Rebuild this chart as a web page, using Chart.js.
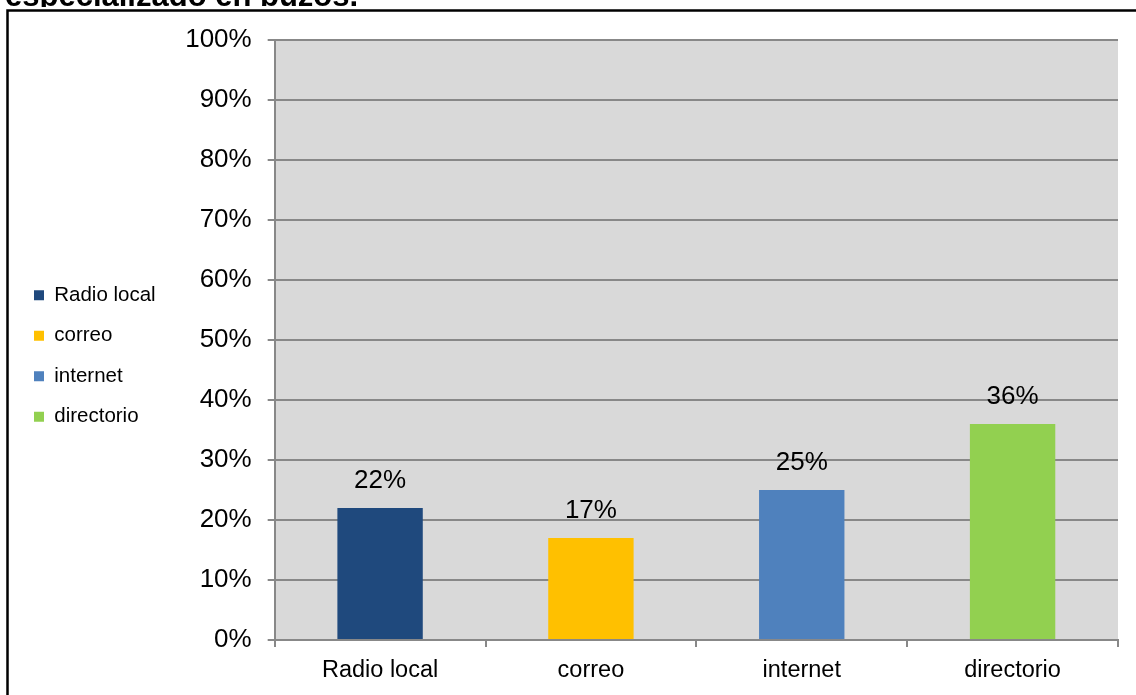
<!DOCTYPE html>
<html>
<head>
<meta charset="utf-8">
<script src="https://cdn.jsdelivr.net/npm/chart.js@4.4.1/dist/chart.umd.min.js"></script>
<style>
  html, body { margin: 0; padding: 0; background: #fff; }
  #wrap { width: 1136px; height: 695px; }
</style>
</head>
<body>
<div id="wrap"><canvas id="myChart" width="1136" height="695"></canvas></div>
<script>
const titulo = "especializado en buzos.";
const medios = ["Radio local", "correo", "internet", "directorio"];
const porcentajes = [22, 17, 25, 36];
const colores = ["#1f497d", "#ffc000", "#4f81bd", "#92d050"];

const FUENTE = '"Liberation Sans", Arial, sans-serif';
const GRIS = "#888888";

Chart.defaults.font.family = FUENTE;
Chart.defaults.color = "#000";

// fondo blanco, titulo cortado arriba, marco negro y area gris
const marco = {
  id: "marco",
  beforeDraw(chart) {
    const { ctx, chartArea } = chart;
    ctx.save();
    ctx.fillStyle = "#fff";
    ctx.fillRect(0, 0, chart.width, chart.height);
    ctx.fillStyle = "#000";
    ctx.font = "bold 31px " + FUENTE;
    ctx.textBaseline = "alphabetic";
    ctx.fillText(titulo, 5, 6);
    ctx.fillStyle = "#fff";
    ctx.fillRect(0, 7, chart.width, chart.height);
    ctx.strokeStyle = "#000";
    ctx.lineWidth = 2.5;
    ctx.strokeRect(7.5, 10.5, chart.width + 20, chart.height + 20);
    ctx.fillStyle = "#d9d9d9";
    ctx.fillRect(chartArea.left, chartArea.top, chartArea.right - chartArea.left, chartArea.bottom - chartArea.top);
    ctx.restore();
  },
};

// porcentaje encima de cada barra
const etiquetas = {
  id: "etiquetas",
  afterDatasetsDraw(chart) {
    const ctx = chart.ctx;
    const meta = chart.getDatasetMeta(0);
    ctx.save();
    ctx.font = "26px " + FUENTE;
    ctx.fillStyle = "#000";
    ctx.textAlign = "center";
    ctx.textBaseline = "middle";
    meta.data.forEach((barra, i) => {
      ctx.fillText(porcentajes[i] + "%", barra.x, barra.y - 27);
    });
    ctx.restore();
  },
};

new Chart(document.getElementById("myChart"), {
  type: "bar",
  data: {
    labels: medios,
    datasets: [
      {
        data: porcentajes,
        backgroundColor: colores,
        borderWidth: 0,
        barPercentage: 0.405,
        categoryPercentage: 1,
      },
    ],
  },
  options: {
    responsive: false,
    animation: false,
    devicePixelRatio: 1,
    layout: {
      padding: { top: 40, right: 18, bottom: 0, left: 14 },
    },
    plugins: {
      tooltip: { enabled: false },
      legend: {
        position: "left",
        fullSize: false,
        onClick: null,
        // titulo vacio: baja un poco la columna de la leyenda
        title: { display: true, text: " ", font: { size: 20 }, padding: 4 },
        labels: {
          boxWidth: 10,
          boxHeight: 10,
          padding: 20,
          color: "#000",
          font: { size: 20.5 },
          generateLabels: () =>
            medios.map((m, i) => ({
              text: m,
              fillStyle: colores[i],
              strokeStyle: colores[i],
              lineWidth: 0,
              hidden: false,
              index: i,
            })),
        },
      },
    },
    scales: {
      x: {
        offset: true,
        afterFit(scale) {
          scale.height = 55;
        },
        grid: {
          offset: true,
          drawOnChartArea: false,
          drawTicks: true,
          tickLength: 7,
          color: GRIS,
          lineWidth: 2,
        },
        border: { display: true, color: GRIS, width: 2 },
        ticks: { padding: 9, font: { size: 23.5 }, color: "#000" },
      },
      y: {
        min: 0,
        max: 100,
        afterFit(scale) {
          scale.width = 109;
        },
        grid: {
          color: GRIS,
          lineWidth: 2,
          tickLength: 7,
        },
        border: { display: true, color: GRIS, width: 2 },
        ticks: {
          stepSize: 10,
          padding: 16,
          font: { size: 26 },
          color: "#000",
          callback: (v) => v + "%",
        },
      },
    },
  },
  plugins: [marco, etiquetas],
});
</script>
</body>
</html>
